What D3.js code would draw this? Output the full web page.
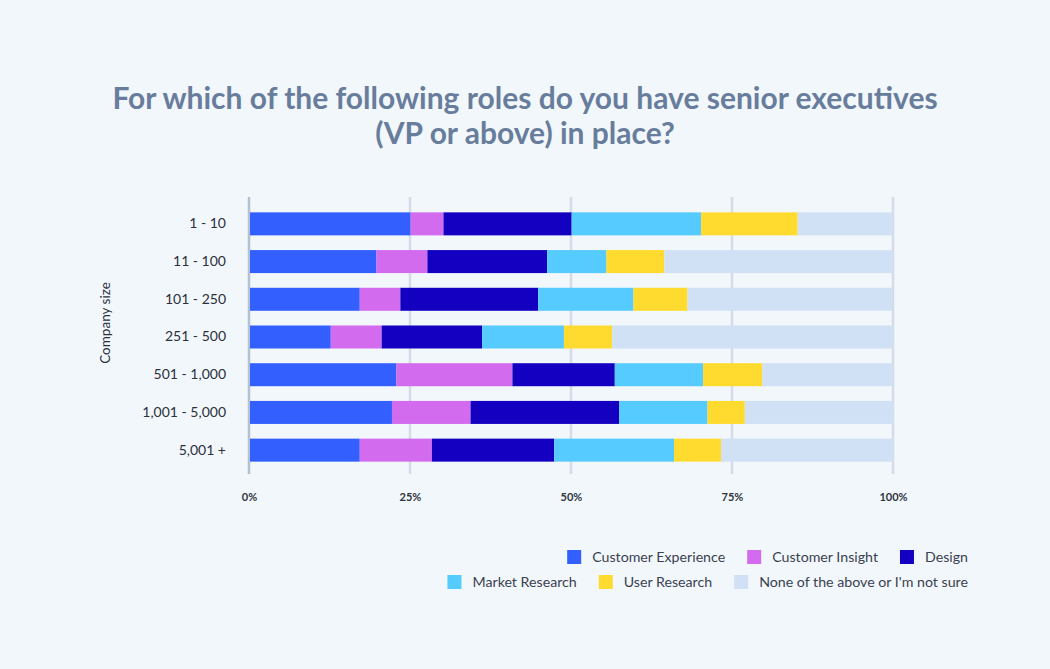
<!DOCTYPE html>
<html>
<head>
<meta charset="utf-8">
<script src="https://cdn.jsdelivr.net/npm/d3@7"></script>
<style>
  body { margin: 0; background: #f2f7fb; }
  svg { display: block; font-family: Lato, "Noto Sans", sans-serif; }
</style>
</head>
<body>
<svg id="chart" width="1050" height="669"></svg>
<script>
// company size rows
var sizes = ['1 - 10', '11 - 100', '101 - 250', '251 - 500', '501 - 1,000', '1,001 - 5,000', '5,001 +'];
var roles = ['Customer Experience', 'Customer Insight', 'Design', 'Market Research', 'User Research', "None of the above or I'm not sure"];
var colors = ['#335fff', '#d36bee', '#1400c0', '#55cbff', '#ffdb2f', '#d0e0f5'];

// percent per role, one value per company size
var customerExperience = [25.1, 19.8, 17.2, 12.7, 22.9, 22.2, 17.2];
var customerInsight    = [5.1, 7.9, 6.3, 7.9, 18.0, 12.2, 11.2];
var design             = [19.9, 18.6, 21.4, 15.6, 15.9, 23.1, 19.0];
var marketResearch     = [20.1, 9.2, 14.8, 12.7, 13.7, 13.7, 18.6];
var userResearch       = [15.0, 9.0, 8.4, 7.5, 9.2, 5.8, 7.3];
var noneOfAbove        = [14.8, 35.5, 31.8, 43.7, 20.3, 23.1, 26.8];
var tickValues = [0, 25, 50, 75, 100];

var series = [customerExperience, customerInsight, design, marketResearch, userResearch, noneOfAbove];

// build rows for d3.stack
var rows = sizes.map(function(s, i) {
  var r = { size: s };
  roles.forEach(function(role, j) { r[role] = series[j][i]; });
  return r;
});
var stacked = d3.stack().keys(roles)(rows);

var svg = d3.select('#chart');

// title
svg.append('text')
  .attr('x', 525).attr('y', 109)
  .attr('text-anchor', 'middle')
  .attr('fill', '#687d9c')
  .attr('font-size', 30)
  .attr('font-weight', 700)
  .selectAll('tspan')
  .data(['For which of the following roles do you have senior executives', '(VP or above) in place?'])
  .enter().append('tspan')
  .attr('x', 525)
  .attr('dy', function(d, i) { return i === 0 ? 0 : 35; })
  .text(function(d) { return d; });

var x = d3.scaleLinear().domain([0, 100]).range([249, 893]);
var y = d3.scaleBand().domain(sizes).range([205, 469]).paddingInner(0.39).paddingOuter(0.195);

// grid lines
svg.append('g').selectAll('line')
  .data(tickValues)
  .enter().append('line')
  .attr('x1', function(d) { return x(d); })
  .attr('x2', function(d) { return x(d); })
  .attr('y1', 197).attr('y2', 474)
  .attr('stroke', function(d) { return d === 0 ? '#b4c1d2' : '#d3dce8'; })
  .attr('stroke-width', 2.5);

// bars
svg.append('g').selectAll('g')
  .data(stacked)
  .enter().append('g')
  .attr('fill', function(d, i) { return colors[i]; })
  .selectAll('rect')
  .data(function(d) { return d; })
  .enter().append('rect')
  .attr('x', function(d) { return x(d[0]) + (d[0] === 0 ? 1 : 0); })
  .attr('y', function(d) { return y(d.data.size); })
  .attr('width', function(d) { return x(d[1]) - x(d[0]) - (d[0] === 0 ? 1 : 0); })
  .attr('height', y.bandwidth());

// x axis labels
var xAxis = svg.append('g')
  .attr('transform', 'translate(0,490)')
  .call(d3.axisBottom(x).tickValues(tickValues).tickSize(0).tickFormat(function(d) { return d + '%'; }));
xAxis.select('.domain').remove();
xAxis.selectAll('text')
  .attr('font-family', 'Lato, sans-serif')
  .attr('font-size', 11)
  .attr('font-weight', 700)
  .attr('fill', '#2e3440');

// y axis labels
var yAxis = svg.append('g')
  .attr('transform', 'translate(226,0)')
  .call(d3.axisLeft(y).tickSize(0).tickPadding(0));
yAxis.select('.domain').remove();
yAxis.selectAll('text')
  .attr('font-family', 'Lato, sans-serif')
  .attr('font-size', 14)
  .attr('fill', '#2b303b');

svg.append('text')
  .attr('transform', 'translate(110,323) rotate(-90)')
  .attr('text-anchor', 'middle')
  .attr('font-size', 13.5)
  .attr('fill', '#2b303b')
  .text('Company size');

// legend, two right aligned rows
var legendRows = [[0, 1, 2], [3, 4, 5]];
legendRows.forEach(function(idx, r) {
  var g = svg.append('g');
  var items = g.selectAll('g').data(idx).enter().append('g');
  items.append('rect')
    .attr('width', 14).attr('height', 14)
    .attr('y', -7)
    .attr('fill', function(d) { return colors[d]; });
  items.append('text')
    .attr('x', 25).attr('dy', '0.35em')
    .attr('font-size', 14.2)
    .attr('fill', '#3a4150')
    .text(function(d) { return roles[d]; });
  var pos = 0;
  items.each(function() {
    var w = d3.select(this).select('text').node().getComputedTextLength() + 25;
    d3.select(this).attr('transform', 'translate(' + pos + ',0)');
    pos += w + 22;
  });
  pos -= 22;
  g.attr('transform', 'translate(' + (968 - pos) + ',' + (557 + r * 25) + ')');
});
</script>
</body>
</html>
